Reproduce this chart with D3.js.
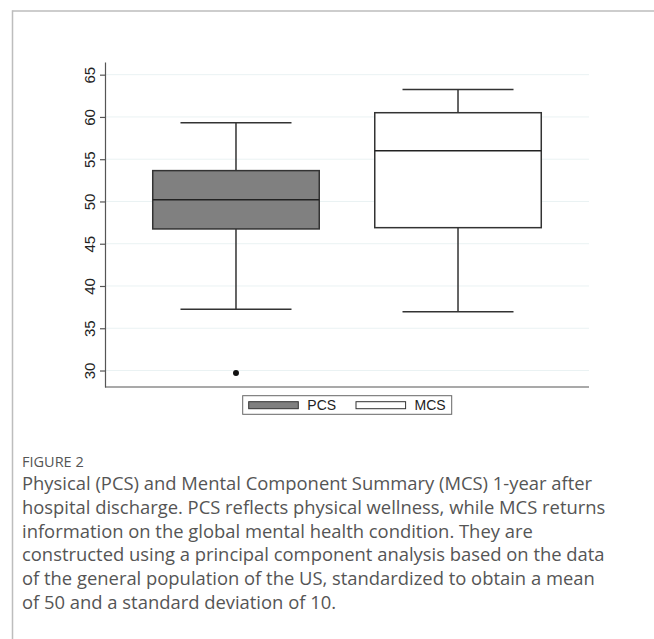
<!DOCTYPE html>
<html>
<head>
<meta charset="utf-8">
<script src="https://cdn.jsdelivr.net/npm/d3@7"></script>
<style>
  html, body { margin: 0; padding: 0; background: #fff; }
  svg { display: block; }
</style>
</head>
<body>
<svg id="chart" width="654" height="639"></svg>
<script>
// ---- data ----
const categories = ["PCS", "MCS"];
const whiskerLow  = [37.25, 36.95];
const q1          = [46.75, 46.9];
const medians     = [50.2, 56.0];
const q3          = [53.65, 60.5];
const whiskerHigh = [59.3, 63.25];
const outliers    = [[29.7], []];
const fills       = ["#808080", "#ffffff"];
const yTicks      = [30, 35, 40, 45, 50, 55, 60, 65];
const captionTitle = "FIGURE 2";
const captionLines = [
  "Physical (PCS) and Mental Component Summary (MCS) 1-year after",
  "hospital discharge. PCS reflects physical wellness, while MCS returns",
  "information on the global mental health condition. They are",
  "constructed using a principal component analysis based on the data",
  "of the general population of the US, standardized to obtain a mean",
  "of 50 and a standard deviation of 10."
];

const boxes = categories.map((c, i) => ({
  cat: c, lo: whiskerLow[i], q1: q1[i], med: medians[i], q3: q3[i], hi: whiskerHigh[i],
  out: outliers[i], fill: fills[i]
}));

const svg = d3.select("#chart");

// page frame
svg.append("line").attr("x1", 12.5).attr("x2", 654).attr("y1", 11).attr("y2", 11)
  .attr("stroke", "#bdbdbd").attr("stroke-width", 1.5);
svg.append("line").attr("x1", 12.5).attr("x2", 12.5).attr("y1", 10.3).attr("y2", 639)
  .attr("stroke", "#bdbdbd").attr("stroke-width", 1.5);

const plotL = 105, plotR = 589, plotT = 62, plotB = 387;

const x = d3.scalePoint().domain(categories).range([plotL, plotR]).padding(0.59);
const y = d3.scaleLinear().domain([28.05, 66.5]).range([plotB, plotT]);
const step = x.step();
const boxW = step * 0.75;
const capW = step * 0.5;

const g = svg.append("g");

// grid
g.append("g").selectAll("line").data(yTicks).join("line")
  .attr("x1", plotL).attr("x2", plotR)
  .attr("y1", d => y(d)).attr("y2", d => y(d))
  .attr("stroke", "#eaf2f3").attr("stroke-width", 1);

// y axis
const yAxis = g.append("g").attr("transform", `translate(${plotL},0)`)
  .call(d3.axisLeft(y).tickValues(yTicks).tickSize(5).tickPadding(3).tickSizeOuter(0));
yAxis.attr("font-size", null).attr("font-family", null);
yAxis.select(".domain").attr("stroke", "#555").attr("stroke-width", 1.2);
yAxis.selectAll(".tick line").attr("stroke", "#555").attr("stroke-width", 1.2);
yAxis.selectAll(".tick text")
  .style("font-family", "'Liberation Sans', Arial, sans-serif")
  .style("font-size", "15px").attr("fill", "#222")
  .attr("text-anchor", "middle")
  .attr("x", 0).attr("dy", 0)
  .attr("transform", "translate(-16,0) rotate(-90)")
  .attr("dominant-baseline", "central");

// x axis (no ticks)
const xAxis = g.append("g").attr("transform", `translate(0,${plotB})`)
  .call(d3.axisBottom(x).tickSize(0).tickFormat("").tickSizeOuter(0));
xAxis.select(".domain").attr("stroke", "#555").attr("stroke-width", 1.2)
  .attr("d", `M${plotL},0H${plotR}`);

// boxes
const bx = g.append("g").selectAll("g").data(boxes).join("g");
const stroke = "#333";
// whisker stems
bx.append("line").attr("x1", d => x(d.cat)).attr("x2", d => x(d.cat))
  .attr("y1", d => y(d.q3)).attr("y2", d => y(d.hi)).attr("stroke", stroke).attr("stroke-width", 1.5);
bx.append("line").attr("x1", d => x(d.cat)).attr("x2", d => x(d.cat))
  .attr("y1", d => y(d.q1)).attr("y2", d => y(d.lo)).attr("stroke", stroke).attr("stroke-width", 1.5);
// caps
bx.append("line").attr("x1", d => x(d.cat) - capW / 2).attr("x2", d => x(d.cat) + capW / 2)
  .attr("y1", d => y(d.hi)).attr("y2", d => y(d.hi)).attr("stroke", stroke).attr("stroke-width", 1.5);
bx.append("line").attr("x1", d => x(d.cat) - capW / 2).attr("x2", d => x(d.cat) + capW / 2)
  .attr("y1", d => y(d.lo)).attr("y2", d => y(d.lo)).attr("stroke", stroke).attr("stroke-width", 1.5);
// box
bx.append("rect").attr("x", d => x(d.cat) - boxW / 2).attr("width", boxW)
  .attr("y", d => y(d.q3)).attr("height", d => y(d.q1) - y(d.q3))
  .attr("fill", d => d.fill).attr("stroke", stroke).attr("stroke-width", 1.5);
// median
bx.append("line").attr("x1", d => x(d.cat) - boxW / 2).attr("x2", d => x(d.cat) + boxW / 2)
  .attr("y1", d => y(d.med)).attr("y2", d => y(d.med)).attr("stroke", "#222").attr("stroke-width", 1.6);
// outliers
bx.selectAll("circle").data(d => d.out.map(v => ({ cat: d.cat, v }))).join("circle")
  .attr("cx", d => x(d.cat)).attr("cy", d => y(d.v)).attr("r", 3).attr("fill", "#111");

// legend
const leg = svg.append("g");
leg.append("rect").attr("x", 242.7).attr("y", 395.7).attr("width", 209).attr("height", 18.6)
  .attr("fill", "#fff").attr("stroke", "#666").attr("stroke-width", 1);
const legItems = leg.selectAll("g.item").data(boxes).join("g").attr("class", "item")
  .attr("transform", (d, i) => `translate(${248.7 + i * 107.3},0)`);
legItems.append("rect").attr("x", 0).attr("y", 401.7).attr("width", 49.6).attr("height", 7)
  .attr("fill", d => d.fill).attr("stroke", stroke).attr("stroke-width", 1);
legItems.append("text").attr("x", 58.6).attr("y", 410)
  .style("font-family", "'Liberation Sans', Arial, sans-serif").style("font-size", "14px")
  .attr("fill", "#222").text(d => d.cat);

// caption
svg.append("text").attr("x", 22).attr("y", 467)
  .style("font-family", "'Open Sans', sans-serif").style("font-size", "14.5px")
  .attr("fill", "#555").text(captionTitle);
svg.append("g").selectAll("text").data(captionLines).join("text")
  .attr("x", 22).attr("y", (d, i) => 490 + i * 23.8)
  .style("font-family", "'Open Sans', sans-serif").style("font-size", "18.4px")
  .attr("fill", "#555").text(d => d);
</script>
</body>
</html>
